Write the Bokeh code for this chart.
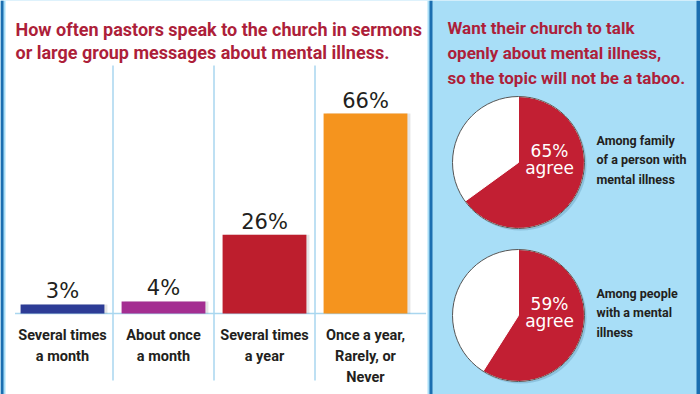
import math
from bokeh.plotting import figure
from bokeh.models import Range1d, ColumnDataSource
from bokeh.core.properties import value
from bokeh.embed import file_html
from bokeh.resources import INLINE

# ---------------- data ----------------
categories = ["Several times\na month", "About once\na month",
              "Several times\na year", "Once a year,\nRarely, or\nNever"]
values = [3, 4, 26, 66]
value_labels = ["3%", "4%", "26%", "66%"]
bar_colors = ["#2d3c96", "#a42e91", "#bd1e2d", "#f5941e"]

pie_values = [65, 59]
pie_labels = ["65%\nagree", "59%\nagree"]
pie_groups = ["Among family\nof a person with\nmental illness",
              "Among people\nwith a mental\nillness"]

left_title_lines = ["How often pastors speak to the church in sermons",
                    "or large group messages about mental illness."]
right_title_lines = ["Want their church to talk",
                     "openly about mental illness,",
                     "so the topic will not be a taboo."]

# ---------------- style ----------------
LIGHT_BLUE = "#a8def7"
DARK_BLUE = "#1b6eb0"
SEP_BLUE = "#a9d6ef"
TITLE_RED = "#ad1f3a"
PIE_RED = "#c21f33"
BOLD = value("Roboto")
REG = value("DejaVu Sans")

W, H = 700, 394
p = figure(width=W, height=H, x_range=Range1d(0, W), y_range=Range1d(H, 0),
           output_backend="svg", toolbar_location=None,
           x_axis_location=None, y_axis_location=None, min_border=0)
p.grid.visible = False
p.outline_line_color = None
p.background_fill_color = LIGHT_BLUE
p.border_fill_color = LIGHT_BLUE

# bar scale: baseline at pixel row 313, ~3.03 px per percent
px_per_pct = 200 / 66
base_row = 313
p.extra_y_ranges = {"pct": Range1d(start=-(H - base_row) / px_per_pct,
                                   end=base_row / px_per_pct)}
bar_step, bar0 = 101, 62
p.extra_x_ranges = {"idx": Range1d(start=-bar0 / bar_step,
                                   end=(W - bar0) / bar_step)}

# panels and frame lines
p.quad(left=5, right=427, top=0, bottom=H, fill_color="white", line_color=None)
p.quad(left=[0, 429, 696], right=[3, 432, 700], top=0, bottom=H,
       fill_color=DARK_BLUE, line_color=None)

idx = list(range(len(values)))

# separators and baseline
p.segment(x0=[i + 0.5 for i in idx[:-1]], x1=[i + 0.5 for i in idx[:-1]],
          y0=[65] * 3, y1=[380] * 3, x_range_name="idx",
          line_color=SEP_BLUE, line_width=1.5)
p.segment(x0=[-0.47], x1=[3.6], y0=[0], y1=[0], x_range_name="idx",
          y_range_name="pct", line_color=SEP_BLUE, line_width=1.5)

bars = ColumnDataSource(dict(x=idx, sx=[i + 0.03 for i in idx], top=values,
                             color=bar_colors, lab=value_labels, cat=categories))
# soft shadow
p.vbar(x="sx", top="top", bottom=0, width=0.83, source=bars, x_range_name="idx",
       y_range_name="pct", fill_color="#000000", fill_alpha=0.10, line_color=None)
p.vbar(x="x", top="top", bottom=0, width=0.83, source=bars, x_range_name="idx",
       y_range_name="pct", fill_color="color", line_color=None)

p.text(x="x", y="top", text="lab", source=bars, x_range_name="idx",
       y_range_name="pct", text_align="center", text_baseline="alphabetic",
       y_offset=-13, text_font=REG, text_font_size="21px", text_color="#231f20")

p.text(x="x", y=326, text="cat", source=bars, x_range_name="idx",
       text_align="center", text_baseline="top", text_line_height=1.25,
       text_font=BOLD, text_font_style="bold", text_font_size="14.5px",
       text_color="#231f20")

# titles
p.text(x=[15] * 2, y=[29 + 23 * i for i in range(2)], text=left_title_lines,
       text_align="left", text_baseline="alphabetic", text_font=BOLD,
       text_font_style="bold", text_font_size="18px", text_color=TITLE_RED)
p.text(x=[447] * 3, y=[27 + 25 * i for i in range(3)], text=right_title_lines,
       text_align="left", text_baseline="alphabetic", text_font=BOLD,
       text_font_style="bold", text_font_size="17px", text_color=TITLE_RED)

# pies
pies = ColumnDataSource(dict(
    x=[518, 518], y=[162, 315],
    sx=[520, 520], sy=[164, 317],
    start=[math.pi / 2] * 2,
    end=[math.pi / 2 - 2 * math.pi * v / 100 for v in pie_values],
    lab=pie_labels, grp=pie_groups))
p.circle(x="sx", y="sy", radius=66, source=pies, fill_color="#5a8fb0",
         fill_alpha=0.35, line_color=None)
p.circle(x="x", y="y", radius=66, source=pies, fill_color="white", line_color=None)
p.wedge(x="x", y="y", radius=66, start_angle="start", end_angle="end",
        direction="clock", source=pies, fill_color=PIE_RED, line_color="white",
        line_width=1)
p.circle(x="x", y="y", radius=66, source=pies, fill_color=None,
         line_color="#555555", line_width=1)

p.text(x="x", y="y", text="lab", source=pies, x_offset=31, y_offset=-3,
       text_align="center", text_baseline="middle", text_line_height=0.85,
       text_font=REG, text_font_size="17px", text_color="white")
p.text(x="x", y="y", text="grp", source=pies, x_offset=78, y_offset=-3,
       text_align="left", text_baseline="middle", text_line_height=1.3,
       text_font=BOLD, text_font_style="bold", text_font_size="12.5px",
       text_color="#231f20")

open("out.html", "w").write(file_html(p, INLINE))
